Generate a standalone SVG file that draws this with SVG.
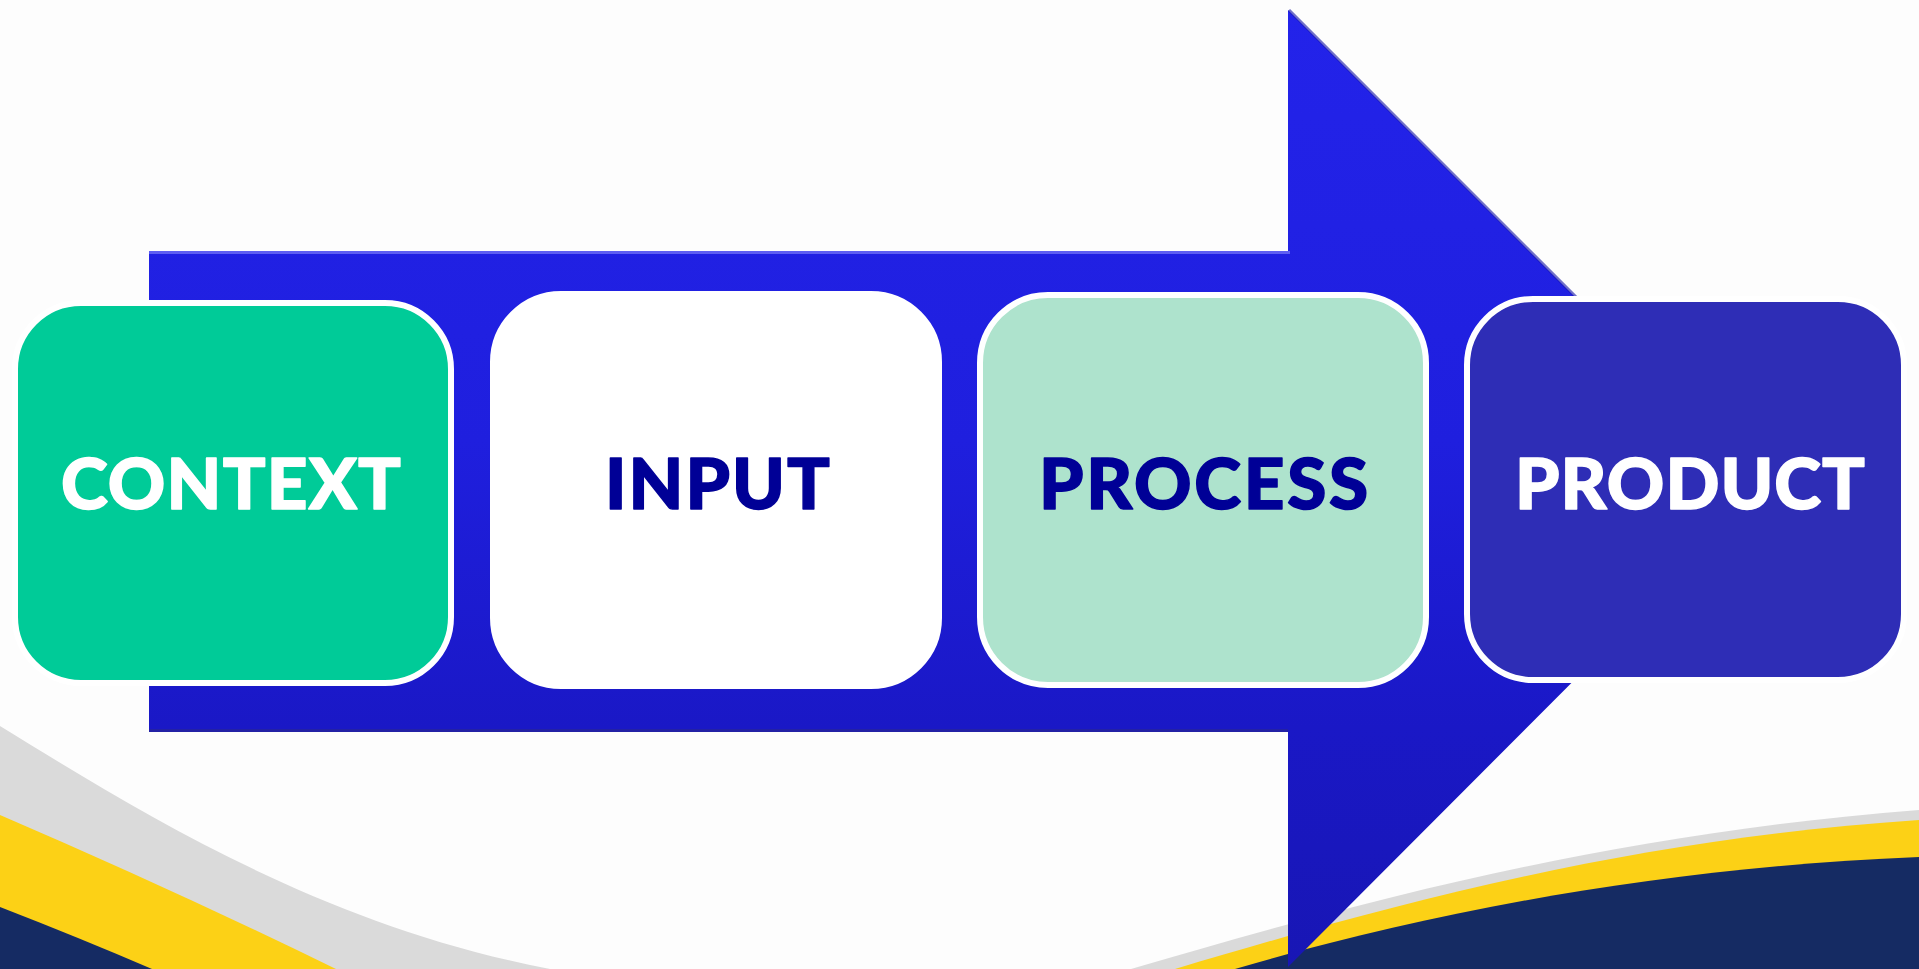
<svg xmlns="http://www.w3.org/2000/svg" width="1919" height="969" viewBox="0 0 1919 969">
  <defs>
    <linearGradient id="arrowGrad" x1="0" y1="10" x2="0" y2="967" gradientUnits="userSpaceOnUse">
      <stop offset="0" stop-color="#2323EA"/>
      <stop offset="0.45" stop-color="#1F1FDE"/>
      <stop offset="0.75" stop-color="#1A18C6"/>
      <stop offset="1" stop-color="#1816B4"/>
    </linearGradient>
    <style>
      .box { stroke: #FFFFFF; stroke-width: 6; }
      .lbl { font-family: "Lato", "Liberation Sans", "DejaVu Sans", sans-serif; font-weight: 900; font-size: 71px; stroke-width: 1.5; stroke-linejoin: round; }
      .dark { fill: #000096; stroke: #000096; }
      .light { fill: #FFFFFF; stroke: #FFFFFF; }
    </style>
  </defs>

  <rect x="0" y="0" width="1919" height="969" fill="#FDFDFD"/>

  <g id="background">
    <path d="M0,726 C140,812 320,925 550,969 L0,969 Z" fill="#DADADA"/>
    <path d="M0,815 Q170,888 336,969 L0,969 Z" fill="#FCD116"/>
    <path d="M0,907 Q80,938 152,969 L0,969 Z" fill="#152B63"/>
    <path d="M1131,969 C1350,905 1600,835 1919,810 L1919,969 Z" fill="#DADADA"/>
    <path d="M1175,969 C1380,908 1620,840 1919,820 L1919,969 Z" fill="#FCD116"/>
    <path d="M1235,969 C1420,915 1650,868 1919,857 L1919,969 Z" fill="#152B63"/>
  </g>

  <g id="connectors">
    <polygon points="149,251 1288,251 1288,10 1766,488 1288,967 1288,732 149,732" fill="url(#arrowGrad)"/>
    <line x1="149" y1="252.5" x2="1290" y2="252.5" stroke="#5E5EF2" stroke-width="3"/>
    <line x1="149" y1="730.5" x2="1288" y2="730.5" stroke="#2A2890" stroke-width="3" opacity="0.6"/>
    <line x1="1289" y1="10" x2="1767" y2="488" stroke="#1414A8" stroke-width="3" opacity="0.6"/>
  </g>

  <g id="context">
    <rect class="box" x="15" y="303" width="436" height="380" rx="66" ry="66" fill="#00CB98"/>
    <text class="lbl light" x="61" y="509" textLength="340" lengthAdjust="spacing">CONTEXT</text>
  </g>

  <g id="input">
    <rect class="box" x="493" y="294" width="446" height="392" rx="68" ry="68" fill="#FFFFFF" stroke="#F2F2F2"/>
    <text class="lbl dark" x="605" y="509" textLength="225" lengthAdjust="spacing">INPUT</text>
  </g>

  <g id="process">
    <rect class="box" x="980" y="295" width="446" height="390" rx="68" ry="68" fill="#AEE3CD"/>
    <text class="lbl dark" x="1039" y="509" textLength="329" lengthAdjust="spacing">PROCESS</text>
  </g>

  <g id="product">
    <rect class="box" x="1467" y="299" width="437" height="381" rx="66" ry="66" fill="#2E2DB6"/>
    <text class="lbl light" x="1515" y="509" textLength="350" lengthAdjust="spacing">PRODUCT</text>
  </g>
</svg>
